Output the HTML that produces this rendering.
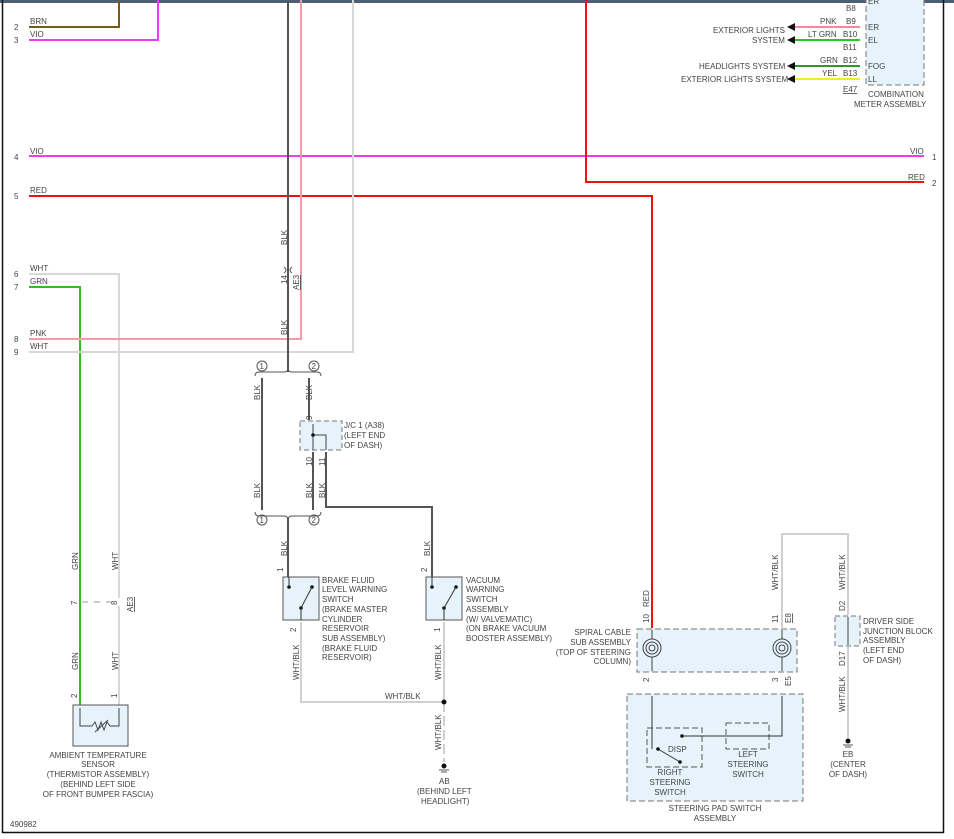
<!DOCTYPE html>
<html><head><meta charset="utf-8"><style>
html,body{margin:0;padding:0;background:#fff;width:954px;height:839px;overflow:hidden}
svg text{font-family:"Liberation Sans",sans-serif;font-size:8px;fill:#444}
</style></head><body>
<svg width="954" height="839" viewBox="0 0 954 839" xmlns="http://www.w3.org/2000/svg">
<rect x="0" y="0" width="954" height="839" fill="#fff"/>
<rect x="0" y="0" width="954" height="3" fill="#4f5f73"/>
<line x1="2.5" y1="0" x2="2.5" y2="833" stroke="#111" stroke-width="1.5"/>
<line x1="2" y1="832.5" x2="944" y2="832.5" stroke="#111" stroke-width="1.5"/>
<line x1="943.5" y1="0" x2="943.5" y2="833" stroke="#111" stroke-width="1.5"/>

<!-- combination meter -->
<rect x="866" y="-5" width="58" height="90" fill="#e6f3fb" stroke="#777" stroke-dasharray="6,3"/>
<g stroke-width="2" fill="none">
<line x1="795" y1="27" x2="860" y2="27" stroke="#f38ba0"/>
<line x1="795" y1="40" x2="860" y2="40" stroke="#22cc22"/>
<line x1="795" y1="66" x2="860" y2="66" stroke="#2a9a2a"/>
<line x1="795" y1="79" x2="860" y2="79" stroke="#eeee22"/>
</g>
<g fill="#111"><polygon points="787,27 795,23 795,31"/><polygon points="787,40 795,36 795,44"/><polygon points="787,66 795,62 795,70"/><polygon points="787,79 795,75 795,83"/></g>
<text x="846" y="11">B8</text><text x="846" y="24">B9</text><text x="843" y="37">B10</text><text x="843" y="50">B11</text><text x="843" y="63">B12</text><text x="843" y="76">B13</text>
<text x="820" y="24">PNK</text><text x="808" y="37">LT GRN</text><text x="820" y="63">GRN</text><text x="822" y="76">YEL</text>
<text x="868" y="30">ER</text><text x="868" y="43">EL</text><text x="868" y="69">FOG</text><text x="868" y="82">LL</text><text x="868" y="4">ER</text>
<text x="713" y="33">EXTERIOR LIGHTS</text><text x="752" y="43">SYSTEM</text>
<text x="699" y="69">HEADLIGHTS SYSTEM</text><text x="681" y="82">EXTERIOR LIGHTS SYSTEM</text>
<text x="843" y="92" text-decoration="underline">E47</text>
<text x="868" y="97">COMBINATION</text><text x="854" y="107">METER ASSEMBLY</text>

<!-- main wires -->
<g fill="none" stroke-width="2">
<polyline points="29,27 119,27 119,0" stroke="#7a5a1a"/>
<polyline points="29,40 158,40 158,0" stroke="#f03cf0"/>
<line x1="29" y1="156" x2="924" y2="156" stroke="#f03cf0"/>
<polyline points="29,196 652,196 652,628" stroke="#ee1111"/>
<polyline points="586,0 586,182 924,182" stroke="#ee1111"/>
<polyline points="29,274 119,274 119,598" stroke="#d8d8d8"/>
<polyline points="119,606 119,705" stroke="#d8d8d8"/>
<polyline points="29,287 80,287 80,705" stroke="#33bb22"/>
<polyline points="29,339 301,339 301,0" stroke="#f59aaa"/>
<polyline points="29,352 353,352 353,0" stroke="#d8d8d8"/>
<line x1="288" y1="0" x2="288" y2="372" stroke="#555"/>
<line x1="262" y1="378" x2="262" y2="510" stroke="#555"/>
<line x1="309" y1="378" x2="309" y2="420" stroke="#555"/>
<line x1="313" y1="452" x2="313" y2="510" stroke="#555"/>
<polyline points="326,452 326,507 432,507 432,577" stroke="#555"/>
<line x1="288" y1="518" x2="288" y2="577" stroke="#555"/>
<polyline points="301,622 301,702 444,702" stroke="#d0d0d0"/>
<line x1="444" y1="622" x2="444" y2="702" stroke="#d0d0d0"/>
<line x1="444" y1="702" x2="444" y2="762" stroke="#d0d0d0" stroke-dasharray="10,4"/>
<polyline points="782,628 782,534 848,534 848,615" stroke="#d0d0d0"/>
<line x1="848" y1="647" x2="848" y2="738" stroke="#d0d0d0"/>
</g>
<g font-size="8">
<text x="14" y="30">2</text><text x="30" y="24">BRN</text>
<text x="14" y="43">3</text><text x="30" y="37">VIO</text>
<text x="14" y="160">4</text><text x="30" y="154">VIO</text>
<text x="14" y="199">5</text><text x="30" y="193">RED</text>
<text x="14" y="277">6</text><text x="30" y="271">WHT</text>
<text x="14" y="290">7</text><text x="30" y="284">GRN</text>
<text x="14" y="342">8</text><text x="30" y="336">PNK</text>
<text x="14" y="355">9</text><text x="30" y="349">WHT</text>
<text x="910" y="154">VIO</text><text x="932" y="160">1</text>
<text x="908" y="180">RED</text><text x="932" y="186">2</text>
</g>
<!-- AE3 on BLK -->
<path d="M284,267 q4,3 0,6 M292,267 q-4,3 0,6" stroke="#555" fill="none"/>
<g transform="rotate(-90)">
<text x="-245" y="287">BLK</text><text x="-284" y="287">14</text><text x="-290" y="299" text-decoration="underline">AE3</text>
<text x="-335" y="287">BLK</text>
<text x="-400" y="260">BLK</text><text x="-400" y="312">BLK</text><text x="-420" y="312">9</text>
<text x="-498" y="260">BLK</text><text x="-498" y="312">BLK</text><text x="-498" y="325">BLK</text>
<text x="-466" y="312">10</text><text x="-466" y="325">11</text>
<text x="-556" y="287">BLK</text><text x="-556" y="430">BLK</text>
<text x="-572" y="283">1</text><text x="-572" y="427">2</text>
<text x="-632" y="296">2</text><text x="-632" y="440">1</text>
<text x="-680" y="299">WHT/BLK</text><text x="-680" y="441">WHT/BLK</text><text x="-750" y="441">WHT/BLK</text>
<text x="-570" y="78">GRN</text><text x="-570" y="118">WHT</text>
<text x="-605" y="77">7</text><text x="-605" y="117">8</text><text x="-612" y="133" text-decoration="underline">AE3</text>
<text x="-670" y="78">GRN</text><text x="-670" y="118">WHT</text>
<text x="-698" y="77">2</text><text x="-698" y="117">1</text>
<text x="-607" y="649">RED</text><text x="-623" y="649">10</text>
<text x="-590" y="778">WHT/BLK</text><text x="-623" y="778">11</text><text x="-623" y="791" text-decoration="underline">E8</text>
<text x="-590" y="845">WHT/BLK</text><text x="-611" y="845">D2</text><text x="-666" y="845">D17</text>
<text x="-712" y="845">WHT/BLK</text>
<text x="-682" y="649">2</text><text x="-682" y="778">3</text><text x="-686" y="791">E5</text>
</g>
<!-- brackets -->
<g fill="none" stroke="#555">
<path d="M255,376 q0,-4 4,-4 h25 q4,0 4,-4 q0,4 4,4 h25 q4,0 4,4"/>
<path d="M255,512 q0,4 4,4 h25 q4,0 4,4 q0,-4 4,-4 h25 q4,0 4,-4"/>
<circle cx="262" cy="366" r="5"/><circle cx="314" cy="366" r="5"/>
<circle cx="262" cy="520" r="5"/><circle cx="314" cy="520" r="5"/>
</g>
<text x="259.5" y="369" font-size="7">1</text><text x="311.5" y="369" font-size="7">2</text>
<text x="259.5" y="523" font-size="7">1</text><text x="311.5" y="523" font-size="7">2</text>
<!-- J/C -->
<rect x="300" y="421" width="42" height="29" fill="#e6f3fb" stroke="#777" stroke-dasharray="5,3"/>
<polyline points="313,424 313,450" stroke="#444" fill="none"/>
<polyline points="313,435 326,435 326,450" stroke="#444" fill="none"/>
<circle cx="313" cy="435" r="1.8" fill="#111"/>
<text x="344" y="428">J/C 1 (A38)</text><text x="344" y="438">(LEFT END</text><text x="344" y="448">OF DASH)</text>
<!-- brake switch -->
<rect x="283" y="577" width="36" height="43" fill="#e6f3fb" stroke="#555"/>
<circle cx="289" cy="587" r="1.8" fill="#111"/><circle cx="312" cy="587" r="1.8" fill="#111"/><circle cx="301" cy="608" r="1.8" fill="#111"/>
<line x1="301" y1="608" x2="312" y2="587" stroke="#333"/><line x1="301" y1="608" x2="301" y2="620" stroke="#333"/><line x1="289" y1="577" x2="289" y2="587" stroke="#333"/>
<g><text x="322" y="583">BRAKE FLUID</text><text x="322" y="592">LEVEL WARNING</text><text x="322" y="602">SWITCH</text><text x="322" y="612">(BRAKE MASTER</text><text x="322" y="622">CYLINDER</text><text x="322" y="631">RESERVOIR</text><text x="322" y="641">SUB ASSEMBLY)</text><text x="322" y="651">(BRAKE FLUID</text><text x="322" y="660">RESERVOIR)</text></g>
<!-- vacuum switch -->
<rect x="426" y="577" width="36" height="43" fill="#e6f3fb" stroke="#555"/>
<circle cx="432" cy="587" r="1.8" fill="#111"/><circle cx="456" cy="587" r="1.8" fill="#111"/><circle cx="444" cy="608" r="1.8" fill="#111"/>
<line x1="444" y1="608" x2="456" y2="587" stroke="#333"/><line x1="444" y1="608" x2="444" y2="620" stroke="#333"/><line x1="432" y1="577" x2="432" y2="587" stroke="#333"/>
<g><text x="466" y="583">VACUUM</text><text x="466" y="592">WARNING</text><text x="466" y="602">SWITCH</text><text x="466" y="612">ASSEMBLY</text><text x="466" y="622">(W/ VALVEMATIC)</text><text x="466" y="631">(ON BRAKE VACUUM</text><text x="466" y="641">BOOSTER ASSEMBLY)</text></g>
<circle cx="444" cy="702" r="2.5" fill="#111"/>
<text x="385" y="699">WHT/BLK</text>
<!-- ground AB -->
<circle cx="444" cy="766" r="2.5" fill="#111"/><line x1="439" y1="770" x2="449" y2="770" stroke="#555"/><line x1="441" y1="772" x2="447" y2="772" stroke="#555"/>
<text x="439" y="784">AB</text><text x="417" y="794">(BEHIND LEFT</text><text x="421" y="804">HEADLIGHT)</text>
<!-- ambient sensor -->
<rect x="73" y="705" width="55" height="41" fill="#e6f3fb" stroke="#555"/>
<polyline points="80,708 80,726 92,726 95,722 98,730 101,722 104,730 107,722 110,726 119,726 119,708" fill="none" stroke="#444"/>
<line x1="95" y1="732" x2="108" y2="720" stroke="#444"/>
<line x1="82" y1="602" x2="115" y2="602" stroke="#999" stroke-dasharray="6,6"/>
<g text-anchor="middle"><text x="98" y="758">AMBIENT TEMPERATURE</text><text x="98" y="767">SENSOR</text><text x="98" y="777">(THERMISTOR ASSEMBLY)</text><text x="98" y="787">(BEHIND LEFT SIDE</text><text x="98" y="797">OF FRONT BUMPER FASCIA)</text></g>
<text x="10" y="827">490982</text>
<!-- spiral cable -->
<rect x="637" y="629" width="160" height="43" fill="#e6f3fb" stroke="#777" stroke-dasharray="6,3"/>
<g fill="none" stroke="#444">
<circle cx="652" cy="648" r="9"/><circle cx="652" cy="648" r="6"/><circle cx="652" cy="648" r="3"/>
<circle cx="782" cy="648" r="9"/><circle cx="782" cy="648" r="6"/><circle cx="782" cy="648" r="3"/>
<line x1="652" y1="630" x2="652" y2="639"/><line x1="652" y1="657" x2="652" y2="671"/>
<line x1="782" y1="630" x2="782" y2="639"/><line x1="782" y1="657" x2="782" y2="671"/>
</g>
<g text-anchor="end"><text x="631" y="635">SPIRAL CABLE</text><text x="631" y="645">SUB ASSEMBLY</text><text x="631" y="655">(TOP OF STEERING</text><text x="631" y="664">COLUMN)</text></g>
<!-- steering pad -->
<rect x="627" y="694" width="176" height="107" fill="#e6f3fb" stroke="#777" stroke-dasharray="6,3"/>
<rect x="647" y="728" width="55" height="39" fill="none" stroke="#555" stroke-dasharray="6,3"/>
<rect x="726" y="723" width="43" height="26" fill="none" stroke="#555" stroke-dasharray="6,3"/>
<g fill="none" stroke="#333">
<polyline points="652,696 652,749"/><line x1="658" y1="749" x2="680" y2="762"/>
<polyline points="682,736 782,736 782,696"/>
</g>
<circle cx="658" cy="749" r="1.8" fill="#111"/><circle cx="680" cy="762" r="1.8" fill="#111"/><circle cx="682" cy="736" r="1.8" fill="#111"/>
<text x="668" y="752">DISP</text>
<g text-anchor="middle"><text x="670" y="775">RIGHT</text><text x="670" y="785">STEERING</text><text x="670" y="795">SWITCH</text>
<text x="748" y="757">LEFT</text><text x="748" y="767">STEERING</text><text x="748" y="777">SWITCH</text>
<text x="715" y="811">STEERING PAD SWITCH</text><text x="715" y="821">ASSEMBLY</text></g>
<!-- DSJB -->
<rect x="835" y="616" width="25" height="30" fill="#e6f3fb" stroke="#777" stroke-dasharray="5,3"/>
<line x1="848" y1="617" x2="848" y2="645" stroke="#444"/>
<g><text x="863" y="624">DRIVER SIDE</text><text x="863" y="634">JUNCTION BLOCK</text><text x="863" y="643">ASSEMBLY</text><text x="863" y="653">(LEFT END</text><text x="863" y="663">OF DASH)</text></g>
<circle cx="848" cy="741" r="2.5" fill="#111"/><line x1="843" y1="745" x2="853" y2="745" stroke="#555"/><line x1="845" y1="747" x2="851" y2="747" stroke="#555"/>
<g text-anchor="middle"><text x="848" y="757">EB</text><text x="848" y="767">(CENTER</text><text x="848" y="777">OF DASH)</text></g>
</svg>
</body></html>
